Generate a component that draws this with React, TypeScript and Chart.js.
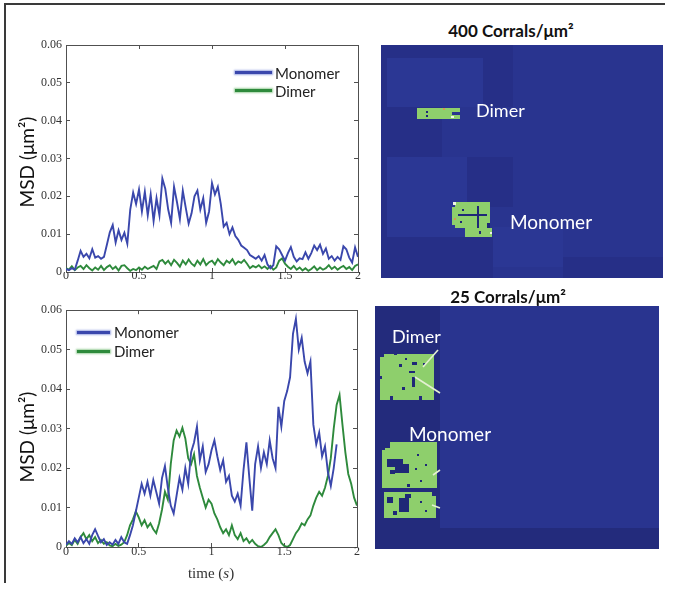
import React, { useEffect, useRef } from 'react';
import { Chart, registerables } from 'chart.js';

Chart.register(...registerables);

// ---------- data ----------
const TIME = [
  0, 0.02, 0.04, 0.06, 0.08, 0.1, 0.12, 0.14, 0.16, 0.18,
  0.2, 0.22, 0.24, 0.26, 0.28, 0.3, 0.32, 0.34, 0.36, 0.38,
  0.4, 0.42, 0.44, 0.46, 0.48, 0.5, 0.52, 0.54, 0.56, 0.58,
  0.6, 0.62, 0.64, 0.66, 0.68, 0.7, 0.72, 0.74, 0.76, 0.78,
  0.8, 0.82, 0.84, 0.86, 0.88, 0.9, 0.92, 0.94, 0.96, 0.98,
  1, 1.02, 1.04, 1.06, 1.08, 1.1, 1.12, 1.14, 1.16, 1.18,
  1.2, 1.22, 1.24, 1.26, 1.28, 1.3, 1.32, 1.34, 1.36, 1.38,
  1.4, 1.42, 1.44, 1.46, 1.48, 1.5, 1.52, 1.54, 1.56, 1.58,
  1.6, 1.62, 1.64, 1.66, 1.68, 1.7, 1.72, 1.74, 1.76, 1.78,
  1.8, 1.82, 1.84, 1.86, 1.88, 1.9, 1.92, 1.94, 1.96, 1.98,
  2,
];

const TOP_MONOMER = [
  0.0008, 0.0005, 0.0010, 0.0006, 0.0030, 0.0056, 0.0040, 0.0048, 0.0036, 0.0060,
  0.0038, 0.0042, 0.0035, 0.0040, 0.0072, 0.0105, 0.0124, 0.0078, 0.0110, 0.0085,
  0.0104, 0.0075, 0.0165, 0.0210, 0.0180, 0.0218, 0.0160, 0.0212, 0.0150, 0.0205,
  0.0135, 0.0195, 0.0150, 0.0247, 0.0220, 0.0165, 0.0130, 0.0225, 0.0185, 0.0140,
  0.0215, 0.0170, 0.0128, 0.0155, 0.0200, 0.0215, 0.0165, 0.0195, 0.0130, 0.0160,
  0.0235, 0.0205, 0.0225, 0.0180, 0.0120, 0.0130, 0.0100, 0.0118, 0.0095, 0.0085,
  0.0070, 0.0064, 0.0058, 0.0045, 0.0040, 0.0035, 0.0042, 0.0030, 0.0045, 0.0020,
  0.0010, 0.0018, 0.0068, 0.0060, 0.0045, 0.0030, 0.0050, 0.0066, 0.0040, 0.0028,
  0.0036, 0.0034, 0.0052, 0.0035, 0.0050, 0.0070, 0.0058, 0.0072, 0.0048, 0.0062,
  0.0035, 0.0042, 0.0030, 0.0040, 0.0032, 0.0068, 0.0060, 0.0038, 0.0025, 0.0065,
  0.0040,
];

const TOP_DIMER = [
  0.0010, 0.0006, 0.0015, 0.0005, 0.0012, 0.0016, 0.0008, 0.0018, 0.0010, 0.0004,
  0.0012, 0.0006, 0.0016, 0.0005, 0.0013, 0.0018, 0.0008, 0.0014, 0.0004, 0.0016,
  0.0018, 0.0010, 0.0003, 0.0008, 0.0005, 0.0012, 0.0006, 0.0014, 0.0008, 0.0012,
  0.0016, 0.0008, 0.0028, 0.0032, 0.0022, 0.0030, 0.0018, 0.0032, 0.0024, 0.0014,
  0.0030, 0.0020, 0.0033, 0.0022, 0.0016, 0.0030, 0.0020, 0.0034, 0.0018, 0.0026,
  0.0030, 0.0020, 0.0034, 0.0025, 0.0018, 0.0030, 0.0024, 0.0034, 0.0020, 0.0028,
  0.0024, 0.0032, 0.0022, 0.0010, 0.0016, 0.0012, 0.0018, 0.0010, 0.0015, 0.0008,
  0.0016, 0.0006, 0.0012, 0.0030, 0.0036, 0.0022, 0.0014, 0.0008, 0.0016, 0.0006,
  0.0012, 0.0004, 0.0010, 0.0003, 0.0008, 0.0015, 0.0005, 0.0012, 0.0006, 0.0010,
  0.0018, 0.0008, 0.0014, 0.0006, 0.0012, 0.0016, 0.0008, 0.0013, 0.0005, 0.0016,
  0.0020,
];

const BOTTOM_MONOMER = [
  0.0005, 0.0015, 0.0008, 0.0022, 0.0012, 0.0025, 0.0010, 0.0020, 0.0008, 0.0030,
  0.0045, 0.0028, 0.0012, 0.0020, 0.0005, 0.0012, 0.0006, 0.0018, 0.0008, 0.0025,
  0.0012, 0.0008, 0.0030, 0.0055, 0.0090, 0.0125, 0.0160, 0.0135, 0.0165, 0.0130,
  0.0170, 0.0140, 0.0110, 0.0175, 0.0205, 0.0150, 0.0105, 0.0085, 0.0130, 0.0175,
  0.0145, 0.0200, 0.0160, 0.0240, 0.0265, 0.0305, 0.0220, 0.0255, 0.0190, 0.0210,
  0.0245, 0.0270, 0.0230, 0.0195, 0.0220, 0.0165, 0.0180, 0.0130, 0.0115, 0.0135,
  0.0105, 0.0195, 0.0265, 0.0175, 0.0092, 0.0210, 0.0255, 0.0200, 0.0240, 0.0210,
  0.0270, 0.0225, 0.0200, 0.0355, 0.0305, 0.0370, 0.0395, 0.0430, 0.0540, 0.0578,
  0.0500, 0.0530, 0.0470, 0.0440, 0.0470, 0.0310, 0.0260, 0.0290, 0.0230, 0.0255,
  0.0190, 0.0155, 0.0200, 0.0260,
];

const BOTTOM_DIMER = [
  0.0003, 0.0010, 0.0005, 0.0018, 0.0008, 0.0025, 0.0035, 0.0020, 0.0030, 0.0015,
  0.0025, 0.0010, 0.0018, 0.0008, 0.0012, 0.0004, 0.0002, 0.0008, 0.0003, 0.0006,
  0.0012, 0.0030, 0.0055, 0.0070, 0.0090, 0.0075, 0.0055, 0.0068, 0.0050, 0.0060,
  0.0045, 0.0035, 0.0060, 0.0095, 0.0140, 0.0120, 0.0210, 0.0270, 0.0295, 0.0280,
  0.0302, 0.0275, 0.0225, 0.0210, 0.0235, 0.0180, 0.0150, 0.0125, 0.0100, 0.0120,
  0.0110, 0.0085, 0.0070, 0.0050, 0.0035, 0.0045, 0.0030, 0.0055, 0.0030, 0.0020,
  0.0035, 0.0015, 0.0022, 0.0010, 0.0018, 0.0008, 0.0002, 0.0000, 0.0005, 0.0012,
  0.0025, 0.0035, 0.0045, 0.0030, 0.0010, 0.0003, 0.0000, 0.0005, 0.0020, 0.0035,
  0.0045, 0.0060, 0.0055, 0.0070, 0.0080, 0.0105, 0.0125, 0.0140, 0.0130, 0.0150,
  0.0180, 0.0225, 0.0300, 0.0360, 0.0385, 0.0310, 0.0240, 0.0185, 0.0160, 0.0125,
  0.0105,
];

const X_TICKS = [0, 0.5, 1, 1.5, 2];
const Y_TICKS = [0, 0.01, 0.02, 0.03, 0.04, 0.05, 0.06];
const SERIES_NAMES = ['Monomer', 'Dimer'];
const PANEL_TITLES = ['400 Corrals/\u03bcm\u00b2', '25 Corrals/\u03bcm\u00b2'];
const Y_TITLE = 'MSD (\u03bcm\u00b2)';

// Corral maps: cells [x0, y0, x1, y1, level]
// levels: 0 dark corral, 1 base, 2 light corral, 3 visited, 4 gap, 5 orange, 6 white, 7 outer region
const HIGH_DENSITY_CELLS = [
  [0, 0, 282, 233, 1],
  [0, 0, 132, 212, 0],
  [6, 13, 102, 62, 2],
  [61, 62, 132, 112, 1],
  [6, 112, 86, 192, 2],
  [86, 162, 132, 192, 1],
  [0, 192, 112, 233, 0],
  [112, 182, 182, 222, 2],
  [112, 222, 182, 233, 1],
  [182, 212, 282, 233, 0],
  // dimer trace
  [36, 63, 71, 74, 3],
  [71, 63, 79, 67, 3],
  [71, 70, 79, 74, 3],
  [45, 66, 47, 68, 4],
  [45, 70, 47, 72, 4],
  [62, 63, 64, 65, 5],
  [70, 71, 73, 73, 6],
  // monomer trace
  [74, 157, 109, 183, 3],
  [71, 162, 74, 180, 3],
  [84, 183, 111, 192, 3],
  [96, 161, 98, 183, 4],
  [77, 169, 106, 171, 4],
  [81, 164, 83, 166, 4],
  [79, 176, 81, 178, 4],
  [98, 186, 100, 189, 4],
  [106, 178, 109, 183, 4],
  [72, 157, 75, 160, 6],
  [109, 187, 111, 189, 6],
  [73, 173, 75, 175, 5],
];

const LOW_DENSITY_CELLS = [
  [0, 0, 284, 243, 7],
  [65, 0, 284, 222, 1],
  // dimer trace
  [5, 48, 59, 94, 3],
  [5, 48, 9, 51, 7],
  [19, 47, 22, 49, 7],
  [24, 58, 27, 61, 4],
  [37, 56, 42, 59, 4],
  [34, 65, 40, 67, 4],
  [37, 71, 40, 81, 4],
  [27, 81, 30, 84, 4],
  [48, 57, 50, 59, 4],
  [30, 52, 32, 54, 4],
  [5, 70, 7, 73, 7],
  [15, 90, 18, 94, 7],
  [44, 90, 47, 94, 7],
  // monomer trace
  [10, 136, 62, 182, 3],
  [7, 144, 10, 182, 3],
  [9, 186, 61, 212, 3],
  [10, 136, 15, 142, 7],
  [12, 153, 28, 161, 4],
  [20, 158, 34, 167, 4],
  [15, 164, 20, 168, 4],
  [42, 148, 44, 150, 4],
  [40, 162, 42, 164, 4],
  [45, 174, 47, 176, 4],
  [32, 178, 35, 181, 4],
  [50, 158, 52, 160, 4],
  [24, 192, 34, 206, 4],
  [12, 191, 18, 197, 4],
  [30, 188, 36, 192, 4],
  [45, 195, 47, 197, 4],
  [50, 204, 52, 206, 4],
  [18, 205, 22, 209, 4],
  [57, 186, 61, 190, 7],
];

const LOW_DENSITY_TRACKS = [
  [63, 44, 48, 61],
  [40, 71, 65, 87],
  [58, 169, 65, 164],
  [57, 199, 65, 202],
];

// ---------- styles ----------
const MONO_COLOR = '#3a47ac';
const DIMER_COLOR = '#2e8a3c';
const AXIS_COLOR = '#505050';
const TICK_FONT = { family: "'Liberation Serif', 'Times New Roman', serif", size: 12 };
const PANEL_PALETTE = ['#262f87', '#29348f', '#2b3794', '#8ecf6c', '#1f2877', '#d49a55', '#eef6e4', '#232b7c'];
const TRACK_COLOR = '#e4f0d2';

function frameAxis(pos: string, min: number, max: number, ticks: number[], showLabels: boolean, size: number, pad: number, fmt?: (v: number) => string) {
  const horizontal = pos === 'top' || pos === 'bottom';
  return {
    type: 'linear',
    position: pos,
    display: true,
    min,
    max,
    afterBuildTicks: (s: any) => {
      s.ticks = ticks.map((v) => ({ value: v }));
    },
    afterFit: (s: any) => {
      if (horizontal) s.height = size;
      else s.width = size;
    },
    grid: { drawOnChartArea: false, tickLength: -4, color: AXIS_COLOR, lineWidth: 1 },
    border: { display: true, color: AXIS_COLOR, width: 1 },
    ticks: {
      display: showLabels,
      font: TICK_FONT,
      color: '#333',
      padding: pad,
      maxRotation: 0,
      autoSkip: false,
      callback: fmt || ((v: number) => String(v)),
    },
  };
}

function msdConfig(monomer: number[], dimer: number[], padTop: number, padRight: number, xHeight: number, xPad: number) {
  const pts = (arr: number[]) => arr.map((y, i) => ({ x: TIME[i], y }));
  const yFmt = (v: number) => (v === 0 ? '0' : v.toFixed(2));
  return {
    type: 'line',
    data: {
      datasets: [
        { label: SERIES_NAMES[0], data: pts(monomer), borderColor: MONO_COLOR, borderWidth: 1.9, pointRadius: 0, tension: 0, fill: false },
        { label: SERIES_NAMES[1], data: pts(dimer), borderColor: DIMER_COLOR, borderWidth: 1.9, pointRadius: 0, tension: 0, fill: false },
      ],
    },
    options: {
      responsive: false,
      animation: false,
      layout: { padding: { left: 0, top: padTop, right: padRight, bottom: 0 } },
      plugins: { legend: { display: false }, tooltip: { enabled: false } },
      scales: {
        x: frameAxis('bottom', 0, 2, X_TICKS, true, xHeight, xPad),
        xTop: frameAxis('top', 0, 2, X_TICKS, false, 0, 0),
        y: frameAxis('left', 0, 0.06, Y_TICKS, true, 66, 8, yFmt),
        yRight: frameAxis('right', 0, 0.06, Y_TICKS, false, 0, 0),
      },
    },
  };
}

function panelConfig(cells: number[][], tracks: number[][], w: number, h: number) {
  const rects = cells.map(([x0, y0, x1, y1, level]) => ({
    data: [{ x: x0, y: y0 }, { x: x1, y: y0 }],
    fill: { value: y1 },
    backgroundColor: PANEL_PALETTE[level],
    borderColor: 'rgba(0,0,0,0)',
    borderWidth: 0,
    pointRadius: 0,
  }));
  const lines = tracks.map(([x0, y0, x1, y1]) => ({
    data: [{ x: x0, y: y0 }, { x: x1, y: y1 }],
    fill: false,
    borderColor: TRACK_COLOR,
    borderWidth: 1.6,
    pointRadius: 0,
  }));
  // Chart.js paints the first dataset last (on top), so list the top-most layer first
  const layers = [...rects, ...lines].reverse();
  return {
    type: 'line',
    data: { datasets: layers },
    options: {
      responsive: false,
      animation: false,
      layout: { padding: 0 },
      plugins: { legend: { display: false }, tooltip: { enabled: false } },
      scales: {
        x: { type: 'linear', min: 0, max: w, display: false },
        y: { type: 'linear', min: 0, max: h, reverse: true, display: false },
      },
    },
  };
}

function ChartCanvas({ left, top, width, height, make }: any) {
  const ref = useRef<HTMLCanvasElement>(null);
  useEffect(() => {
    const chart = new Chart(ref.current as HTMLCanvasElement, make());
    return () => chart.destroy();
  }, []);
  return (
    <canvas
      ref={ref}
      width={width}
      height={height}
      style={{ position: 'absolute', left, top, width, height }}
    />
  );
}

function Text({ x, y, align = 'center', rotate = 0, style, children }: any) {
  const tx = align === 'center' ? '-50%' : '0';
  return (
    <div
      style={{
        position: 'absolute',
        left: x,
        top: y,
        transform: `translate(${tx}, -50%) rotate(${rotate}deg)`,
        whiteSpace: 'nowrap',
        lineHeight: 1,
        ...style,
      }}
    >
      {children}
    </div>
  );
}

function LegendLine({ x, y, w, color, glow }: any) {
  return (
    <div
      style={{
        position: 'absolute',
        left: x,
        top: y - 1.5,
        width: w,
        height: 3,
        background: color,
        boxShadow: `0 0 2px 1px ${glow}`,
      }}
    />
  );
}

export default function App() {
  const sans = "Lato, 'Open Sans', sans-serif";
  const legendStyle = { fontFamily: sans, fontSize: 15, color: '#222' };
  const yTitleStyle = { fontFamily: sans, fontSize: 19, color: '#111' };
  const panelTitleStyle = { fontFamily: sans, fontSize: 17, fontWeight: 700, color: '#111' };
  const whiteStyle = (s: number) => ({ fontFamily: sans, fontSize: s, color: '#ffffff' });
  return (
    <div style={{ position: 'absolute', left: 0, top: 0, width: 677, height: 599, background: '#fff', overflow: 'hidden' }}>
      {/* frame */}
      <div style={{ position: 'absolute', left: 4, top: 3, width: 661, height: 1.5, background: '#3a3a3a' }} />
      <div style={{ position: 'absolute', left: 4, top: 3, width: 1.5, height: 580, background: '#3a3a3a' }} />

      <ChartCanvas left={0} top={0} width={365} height={295} make={() => msdConfig(TOP_MONOMER, TOP_DIMER, 45, 7, 23, 1)} />
      <ChartCanvas left={0} top={295} width={365} height={300} make={() => msdConfig(BOTTOM_MONOMER, BOTTOM_DIMER, 11, 8, 48, 2)} />
      <ChartCanvas left={381} top={45} width={282} height={233} make={() => panelConfig(HIGH_DENSITY_CELLS, [], 282, 233)} />
      <ChartCanvas left={375} top={306} width={284} height={243} make={() => panelConfig(LOW_DENSITY_CELLS, LOW_DENSITY_TRACKS, 284, 243)} />

      {/* y titles */}
      <Text x={26} y={162} rotate={-90} style={yTitleStyle}>{Y_TITLE}</Text>
      <Text x={26} y={437} rotate={-90} style={yTitleStyle}>{Y_TITLE}</Text>
      {/* x title */}
      <Text x={211} y={573} style={{ fontFamily: "'Liberation Serif', serif", fontSize: 15, color: '#333' }}>
        time (<i>s</i>)
      </Text>

      {/* legends */}
      <LegendLine x={235} y={72} w={37} color={MONO_COLOR} glow="rgba(120,135,215,0.7)" />
      <LegendLine x={235} y={90.5} w={37} color={DIMER_COLOR} glow="rgba(120,190,120,0.7)" />
      <Text x={275} y={73} align="left" style={legendStyle}>{SERIES_NAMES[0]}</Text>
      <Text x={275} y={91} align="left" style={legendStyle}>{SERIES_NAMES[1]}</Text>

      <LegendLine x={77} y={332} w={33} color={MONO_COLOR} glow="rgba(120,135,215,0.7)" />
      <LegendLine x={77} y={351} w={33} color={DIMER_COLOR} glow="rgba(120,190,120,0.7)" />
      <Text x={114} y={332} align="left" style={legendStyle}>{SERIES_NAMES[0]}</Text>
      <Text x={114} y={351} align="left" style={legendStyle}>{SERIES_NAMES[1]}</Text>

      {/* panel titles */}
      <Text x={511} y={30} style={panelTitleStyle}>{PANEL_TITLES[0]}</Text>
      <Text x={508} y={296} style={panelTitleStyle}>{PANEL_TITLES[1]}</Text>

      {/* panel labels */}
      <Text x={476} y={110} align="left" style={whiteStyle(18)}>{SERIES_NAMES[1]}</Text>
      <Text x={510} y={221} align="left" style={whiteStyle(19)}>{SERIES_NAMES[0]}</Text>
      <Text x={392} y={336} align="left" style={whiteStyle(18)}>{SERIES_NAMES[1]}</Text>
      <Text x={409} y={433} align="left" style={whiteStyle(19)}>{SERIES_NAMES[0]}</Text>
    </div>
  );
}
